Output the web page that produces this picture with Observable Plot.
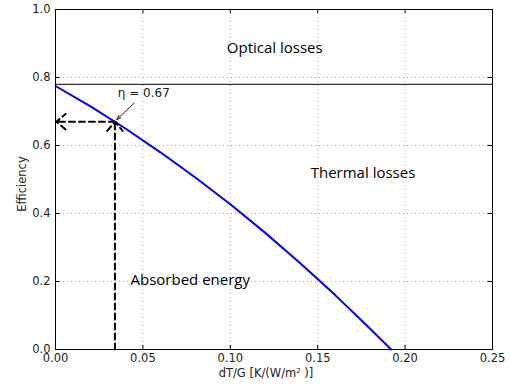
<!DOCTYPE html>
<html><head><meta charset="utf-8">
<script src="https://cdn.jsdelivr.net/npm/d3@7"></script>
<script src="https://cdn.jsdelivr.net/npm/@observablehq/plot@0.6"></script>
<style>body{margin:0;background:#fff}</style>
</head><body><div id="chart"></div>
<script>
const xVals = [0, 0.02, 0.04, 0.06, 0.08, 0.10, 0.12, 0.14, 0.16, 0.18, 0.192];
const effVals = [0.775, 0.715, 0.650, 0.580, 0.506, 0.427, 0.343, 0.254, 0.160, 0.061, 0.0];
const opticalLimit = 0.78;
const pointX = 0.034, pointEta = 0.67;
const xTicks = [0, 0.05, 0.10, 0.15, 0.20, 0.25];
const yTicks = [0, 0.2, 0.4, 0.6, 0.8, 1.0];
const labels = [
  {x: 0.098, y: 0.887, text: "Optical losses"},
  {x: 0.146, y: 0.518, text: "Thermal losses"},
  {x: 0.0429, y: 0.203, text: "Absorbed energy"}
];
const curve = xVals.map((x, i) => ({x, y: effVals[i]}));

const chart = Plot.plot({
  width: 510, height: 384,
  marginLeft: 55, marginRight: 18, marginTop: 9, marginBottom: 35,
  style: {fontFamily: "DejaVu Sans", fontSize: "11.5px", color: "#222"},
  x: {domain: [0, 0.25], label: null},
  y: {domain: [0, 1], label: null},
  marks: [
    Plot.gridX(xTicks, {stroke: "#999", strokeOpacity: 0.8, strokeDasharray: "1,3"}),
    Plot.gridY(yTicks, {stroke: "#999", strokeOpacity: 0.8, strokeDasharray: "1,3"}),
    Plot.axisX({ticks: xTicks, tickFormat: d3.format(".2f"), tickSize: 0, tickPadding: 4, label: null}),
    Plot.axisY({ticks: yTicks, tickFormat: d3.format(".1f"), tickSize: 0, tickPadding: 5, label: null}),
    // inward tick marks on all four sides
    Plot.ruleX(xTicks, {y1: 0, y2: 0.012, stroke: "#000"}),
    Plot.ruleX(xTicks, {y1: 1, y2: 0.988, stroke: "#000"}),
    Plot.ruleY(yTicks, {x1: 0, x2: 0.0025, stroke: "#000"}),
    Plot.ruleY(yTicks, {x1: 0.25, x2: 0.2475, stroke: "#000"}),
    Plot.ruleY([opticalLimit], {stroke: "#000", strokeWidth: 1}),
    Plot.line(curve, {x: "x", y: "y", stroke: "#0000ff", strokeWidth: 2}),
    Plot.arrow([{x1: pointX, y1: pointEta, x2: 0.0005, y2: pointEta}], {x1: "x1", y1: "y1", x2: "x2", y2: "y2", stroke: "#000", strokeWidth: 2, strokeDasharray: "6,4", headLength: 9, headAngle: 80}),
    Plot.arrow([{x1: pointX, y1: 0, x2: pointX, y2: pointEta}], {x1: "x1", y1: "y1", x2: "x2", y2: "y2", stroke: "#000", strokeWidth: 2, strokeDasharray: "6,4", headLength: 9, headAngle: 80}),
    Plot.arrow([{x1: 0.045, y1: 0.725, x2: pointX + 0.001, y2: pointEta + 0.006}], {x1: "x1", y1: "y1", x2: "x2", y2: "y2", stroke: "#222", strokeWidth: 1, headLength: 7, headAngle: 40}),
    Plot.text([{x: 0.0505, y: 0.755, t: "η = 0.67"}], {x: "x", y: "y", text: "t", fontSize: 12, fill: "#222", fontFamily: "DejaVu Sans"}),
    Plot.text(labels, {x: "x", y: "y", text: "text", textAnchor: "start", fontSize: 15, fill: "#000", fontFamily: "Open Sans"}),
    Plot.frame({stroke: "#000", strokeWidth: 1})
  ]
});
const svg = d3.select(chart);
svg.append("text").attr("x", 266).attr("y", 377).attr("text-anchor", "middle")
  .attr("font-family", "DejaVu Sans").attr("font-size", 11.5).attr("fill", "#222")
  .html('dT/G [K/(W/m<tspan dy="-4" font-size="7">2</tspan><tspan dy="4"> )]</tspan>');
svg.append("text").attr("transform", "translate(26,184) rotate(-90)").attr("text-anchor", "middle")
  .attr("font-family", "DejaVu Sans").attr("font-size", 11.5).attr("fill", "#222").text("Efficiency");
document.getElementById("chart").appendChild(chart);
</script>
</body></html>
